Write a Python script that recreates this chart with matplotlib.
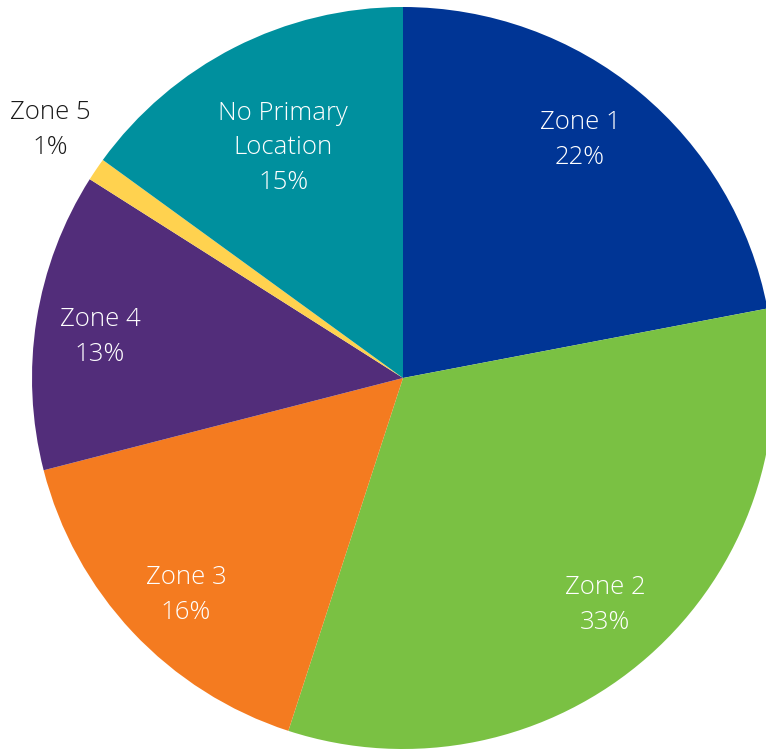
import matplotlib
matplotlib.use('Agg')
import matplotlib.pyplot as plt

# Share of respondents by primary location
labels = ['Zone 1', 'Zone 2', 'Zone 3', 'Zone 4', 'Zone 5', 'No Primary\nLocation']
shares = [22, 33, 16, 13, 1, 15]
colors = ['#003595', '#7AC143', '#F47B20', '#522D7A', '#FFD24F', '#00909E']
label_color = ['white', 'white', 'white', 'white', '#1a1a1a', 'white']
# label anchor points (pie radius = 1)
label_xy = [(0.477, 0.642), (0.544, -0.612), (-0.585, -0.585),
            (-0.817, 0.111), (-0.951, 0.668), (-0.323, 0.620)]

plt.rcParams['font.family'] = ['Open Sans', 'DejaVu Sans']

W, H = 766, 750
fig = plt.figure(figsize=(W / 100, H / 100), dpi=100)
cx, cy, r = 403, 372, 371
ax = fig.add_axes([(cx - r) / W, (cy - r) / H, 2 * r / W, 2 * r / H])

wedges, _ = ax.pie(shares, colors=colors, startangle=90, counterclock=False,
                   radius=1, frame=True,
                   wedgeprops=dict(linewidth=0, clip_on=False))
ax.set_xlim(-1, 1)
ax.set_ylim(-1, 1)
ax.axis('off')

for lab, val, (x, y), c in zip(labels, shares, label_xy, label_color):
    ax.text(x, y, f'{lab}\n{val}%', ha='center', va='center', color=c,
            fontsize=18.5, fontweight='light', linespacing=1.5)

fig.savefig('out.png', dpi=100)
